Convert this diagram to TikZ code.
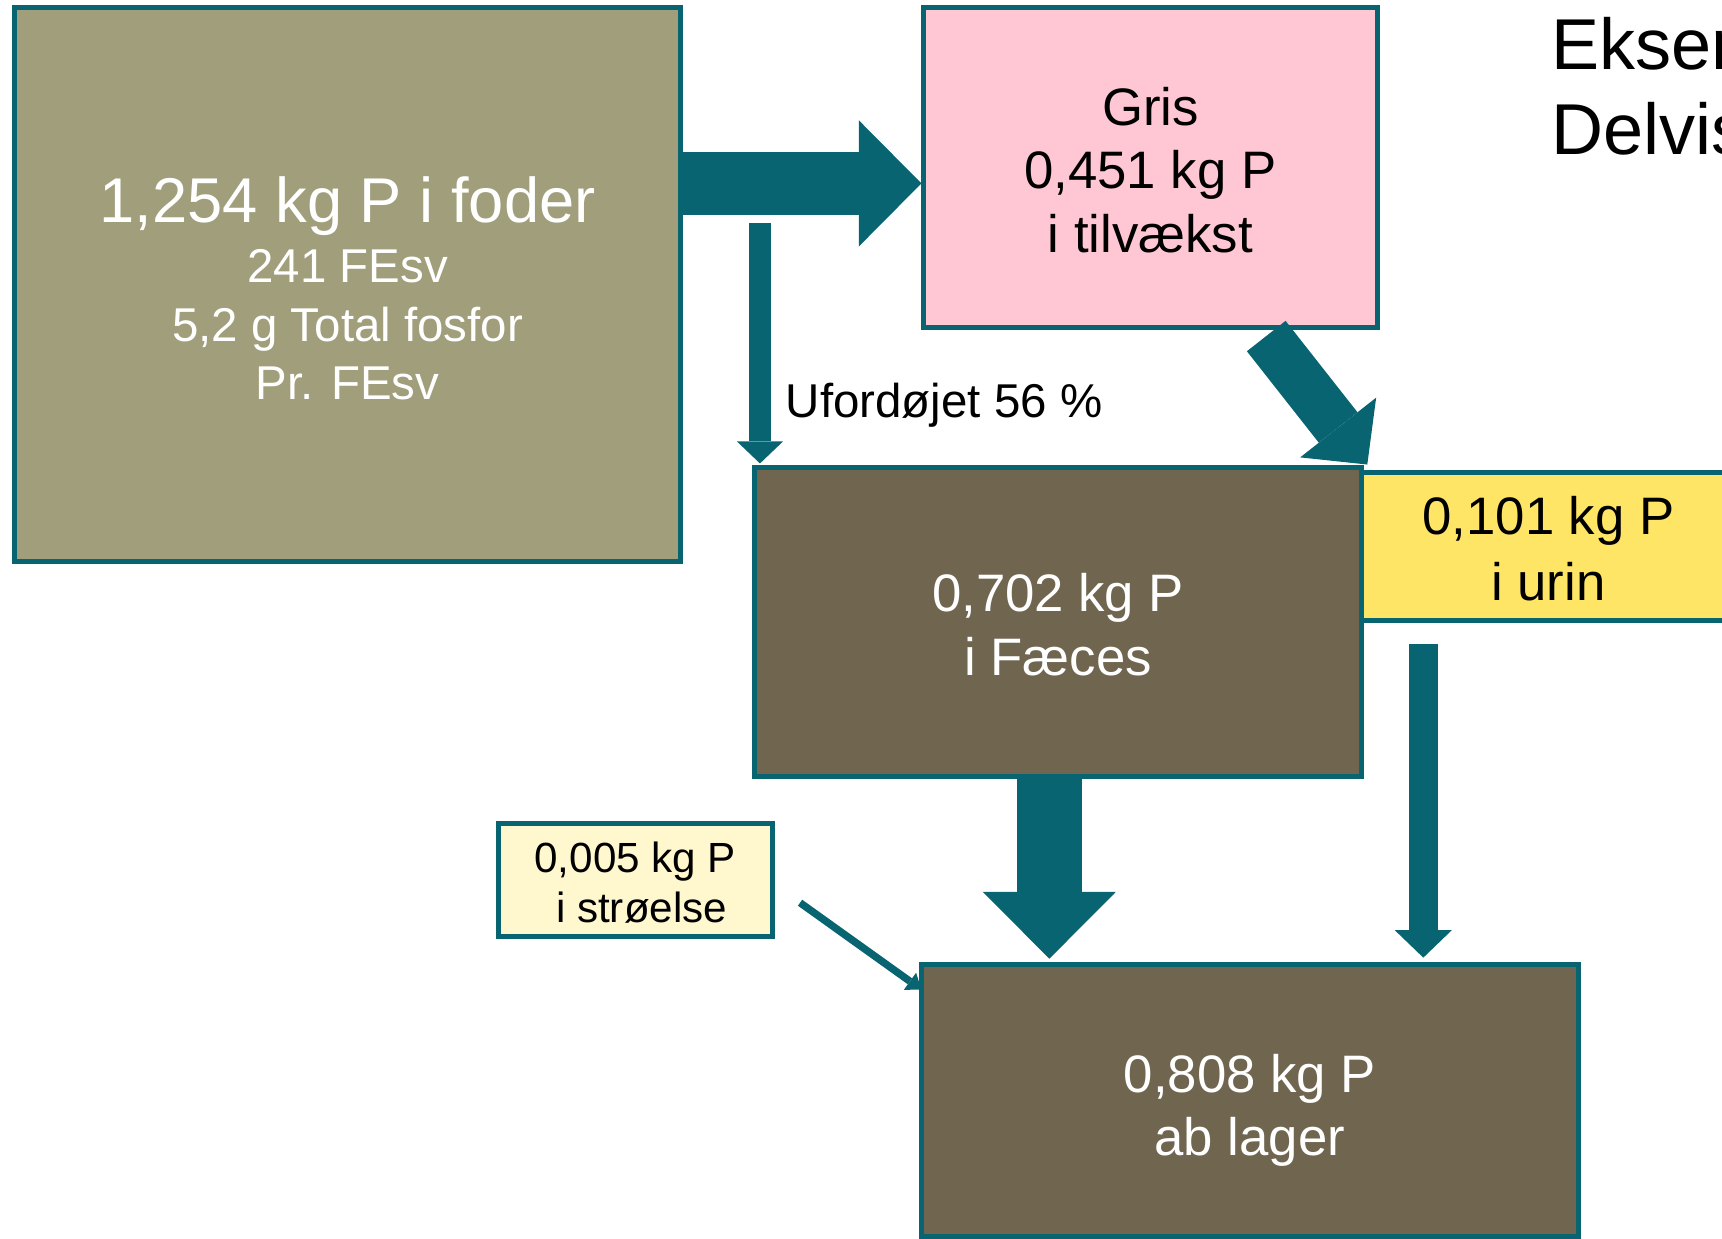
\documentclass[tikz,border=0pt]{standalone}
\usepackage{fontspec}
\setmainfont{Liberation Sans}
\usetikzlibrary{fit,arrows.meta}
\definecolor{tealc}{RGB}{8,100,112}
\definecolor{feedc}{RGB}{161,158,123}
\definecolor{pinkc}{RGB}{255,199,211}
\definecolor{brownc}{RGB}{112,102,80}
\definecolor{urinc}{RGB}{255,229,102}
\definecolor{straac}{RGB}{255,247,206}
\begin{document}
\begin{tikzpicture}[x=0.10982mm, y=-0.10982mm,
  box/.style={draw=tealc, line width=1.4pt, inner sep=0pt},
  txt/.style={inner sep=0pt, align=center},
  flow/.style={draw=tealc, line cap=butt},
  txtA/.style={font=\fontsize{15pt}{18.1pt}\selectfont}]
\useasboundingbox (0,0) rectangle (1568,1128);
\begin{scope}
\clip (0,0) rectangle (1568,1128);
% boxes
\node[box, fill=feedc, fit={(13,7) (620,511)}] (feed) {};
\node[box, fill=pinkc, fit={(841,7) (1254,298)}] (gris) {};
\node[box, fill=urinc, fit={(1240,430) (1580,565)}] (urin) {};
\node[box, fill=brownc, fit={(687,426) (1240,707)}] (faeces) {};
\node[box, fill=straac, fit={(454,750) (703,853)}] (straa) {};
\node[box, fill=brownc, fit={(839,878) (1437,1126)}] (lager) {};
% box texts
\node[txt, text=white, font=\fontsize{13.5pt}{16.6pt}\selectfont] (feedT)
  at ([yshift=-1.05pt]feed.center)
  {{\fontsize{18pt}{21pt}\selectfont 1,254 kg P i foder}\\[0.6pt]241 FEsv\\5,2 g Total fosfor\\Pr. FEsv};
\node[txt, txtA] (grisT) at ([yshift=-0.7pt]gris.center) {Gris\\0,451 kg P\\i tilvækst};
\node[txt, font=\fontsize{15pt}{18.7pt}\selectfont] (urinT) at ([yshift=-0.7pt]urin.center)
  {0,101 kg P\\i urin};
\node[txt, txtA, text=white] (faecesT) at ([yshift=-0.7pt]faeces.center) {0,702 kg P\\i Fæces};
\node[txt, font=\fontsize{12pt}{14.4pt}\selectfont] (straaT) at ([yshift=-0.64pt]straa.center)
  {0,005 kg P\\\hspace*{0.3em}i strøelse};
\node[txt, txtA, text=white] (lagerT) at ([yshift=-2.8pt]lager.center) {0,808 kg P\\ab lager};
% label and title
\node[anchor=base west, inner sep=0pt, font=\fontsize{13.5pt}{16pt}\selectfont] (uford)
  at (715,380) {Ufordøjet 56 \%};
\node[anchor=base west, inner sep=0pt, font=\fontsize{20.5pt}{24pt}\selectfont] (title1)
  at (1412,63) {Eksempel};
\node[anchor=base west, inner sep=0pt, font=\fontsize{20.5pt}{24pt}\selectfont] (title2)
  at (1412,141) {Delvis};
% connector end points
\coordinate (a1s) at (620,167);   \coordinate (a1e) at (839,167);
\coordinate (a2s) at (692,203);   \coordinate (a2e) at (692,422);
\coordinate (a3s) at (1153,306);  \coordinate (a3e) at (1245,423);
\coordinate (a4s) at (955.5,707); \coordinate (a4e) at (955.5,873);
\coordinate (a5s) at (1296,586);  \coordinate (a5e) at (1296,872);
\coordinate (a6s) at (728.5,822); \coordinate (a6e) at (839,901);
% arrows
\draw[flow, line width=17.8pt, -{Triangle[length=17.8pt,width=35.9pt,line width=0pt]}] (a1s) -- (a1e);
\draw[flow, line width=6.25pt, -{Triangle[length=6.25pt,width=13.1pt,line width=0pt]}] (a2s) -- (a2e);
\draw[flow, line width=14pt, -{Triangle[length=13.4pt,width=27.5pt,line width=0pt]}] (a3s) -- (a3e);
\draw[flow, line width=18.4pt, -{Triangle[length=19pt,width=37.8pt,line width=0pt]}] (a4s) -- (a4e);
\draw[flow, line width=8.1pt, -{Triangle[length=7.8pt,width=16.2pt,line width=0pt]}] (a5s) -- (a5e);
\draw[flow, line width=2.1pt, -{Triangle[length=4pt,width=6pt,line width=0pt]}] (a6s) -- (a6e);
\end{scope}
\end{tikzpicture}
\end{document}
